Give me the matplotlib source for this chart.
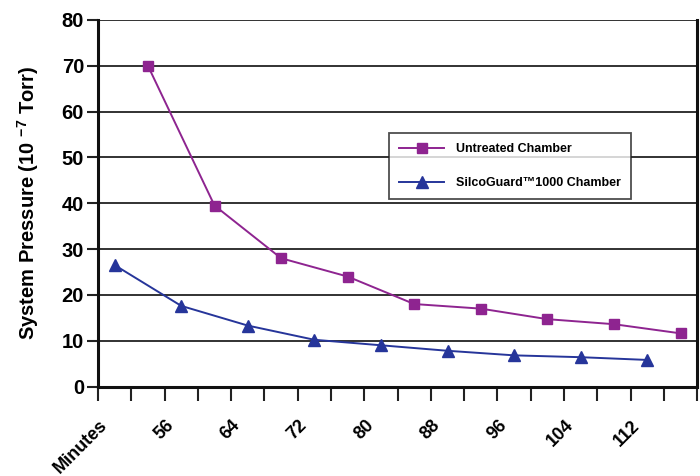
import numpy as np
import matplotlib.pyplot as plt
import matplotlib.transforms as mtransforms

plt.rcParams['font.family'] = ['Liberation Sans', 'DejaVu Sans']
plt.rcParams['mathtext.fontset'] = 'custom'
plt.rcParams['mathtext.rm'] = 'Liberation Sans'
plt.rcParams['mathtext.bf'] = 'Liberation Sans:bold'

# Dados (18 categorias, séries alternadas)
rotulos_x = ["Minutes", "", "56", "", "64", "", "72", "", "80", "",
             "88", "", "96", "", "104", "", "112", ""]
idx_silco = [0, 2, 4, 6, 8, 10, 12, 14, 16]
idx_nao_tratada = [1, 3, 5, 7, 9, 11, 13, 15, 17]
pressao_nao_tratada = [70, 39.5, 28, 24, 18, 17, 14.7, 13.6, 11.6]
pressao_silco = [26.5, 17.6, 13.3, 10.2, 9.0, 7.8, 6.8, 6.4, 5.8]

COR_ROXO = "#8E2490"
COR_AZUL = "#26359A"

fig = plt.figure(figsize=(7, 4.76), dpi=100)
ax = fig.add_axes([0.14, 0.188, 0.856, 0.770])

ax.plot(idx_nao_tratada, pressao_nao_tratada, color=COR_ROXO, lw=1.4,
        marker="s", markersize=7, label="Untreated Chamber", zorder=3)
ax.plot(idx_silco, pressao_silco, color=COR_AZUL, lw=1.4,
        marker="^", markersize=9, label="SilcoGuard™1000 Chamber", zorder=3)

n = len(rotulos_x)
ax.set_xlim(-0.5, n - 0.5)
ax.set_ylim(0, 80)
ax.set_yticks(np.arange(0, 81, 10))
ax.yaxis.grid(True, color="#222222", lw=1.3)
ax.set_axisbelow(True)

# marcas entre categorias
ax.set_xticks(np.arange(-0.5, n, 1), minor=True)
ax.tick_params(axis="x", which="minor", length=10, width=1.5, color="#222222")
posicoes = [i for i, r in enumerate(rotulos_x) if r]
ax.set_xticks(posicoes, [rotulos_x[i] for i in posicoes])
ax.tick_params(axis="x", which="major", length=0, pad=24)
desloca = mtransforms.ScaledTranslation(-10 / 100, -3 / 100, fig.dpi_scale_trans)
for rot in ax.get_xticklabels():
    rot.set_rotation(45)
    rot.set_ha("right")
    rot.set_va("center")
    rot.set_rotation_mode("anchor")
    rot.set_fontsize(13)
    rot.set_fontweight("bold")
    rot.set_transform(rot.get_transform() + desloca)

ax.tick_params(axis="y", length=8, width=1.5, color="#222222", pad=2,
               labelsize=14.5)
for rot in ax.get_yticklabels():
    rot.set_fontweight("bold")

ax.set_ylabel(r"System Pressure (10 $^{\mathbf{-7}}$ Torr)", fontsize=14.5,
              fontweight="bold", labelpad=15)

for lado in ["left", "bottom", "right"]:
    ax.spines[lado].set_linewidth(2.2)
    ax.spines[lado].set_color("#111111")
ax.spines["top"].set_visible(False)

leg = ax.legend(loc="upper left", bbox_to_anchor=(0.476, 0.708),
                frameon=True, fancybox=False, edgecolor="#222222",
                prop={"weight": "bold", "size": 9}, handlelength=3.6,
                labelspacing=1.75, borderpad=0.8, handletextpad=0.9)
leg.get_frame().set_linewidth(1.3)

fig.savefig("out.png", dpi=100)
